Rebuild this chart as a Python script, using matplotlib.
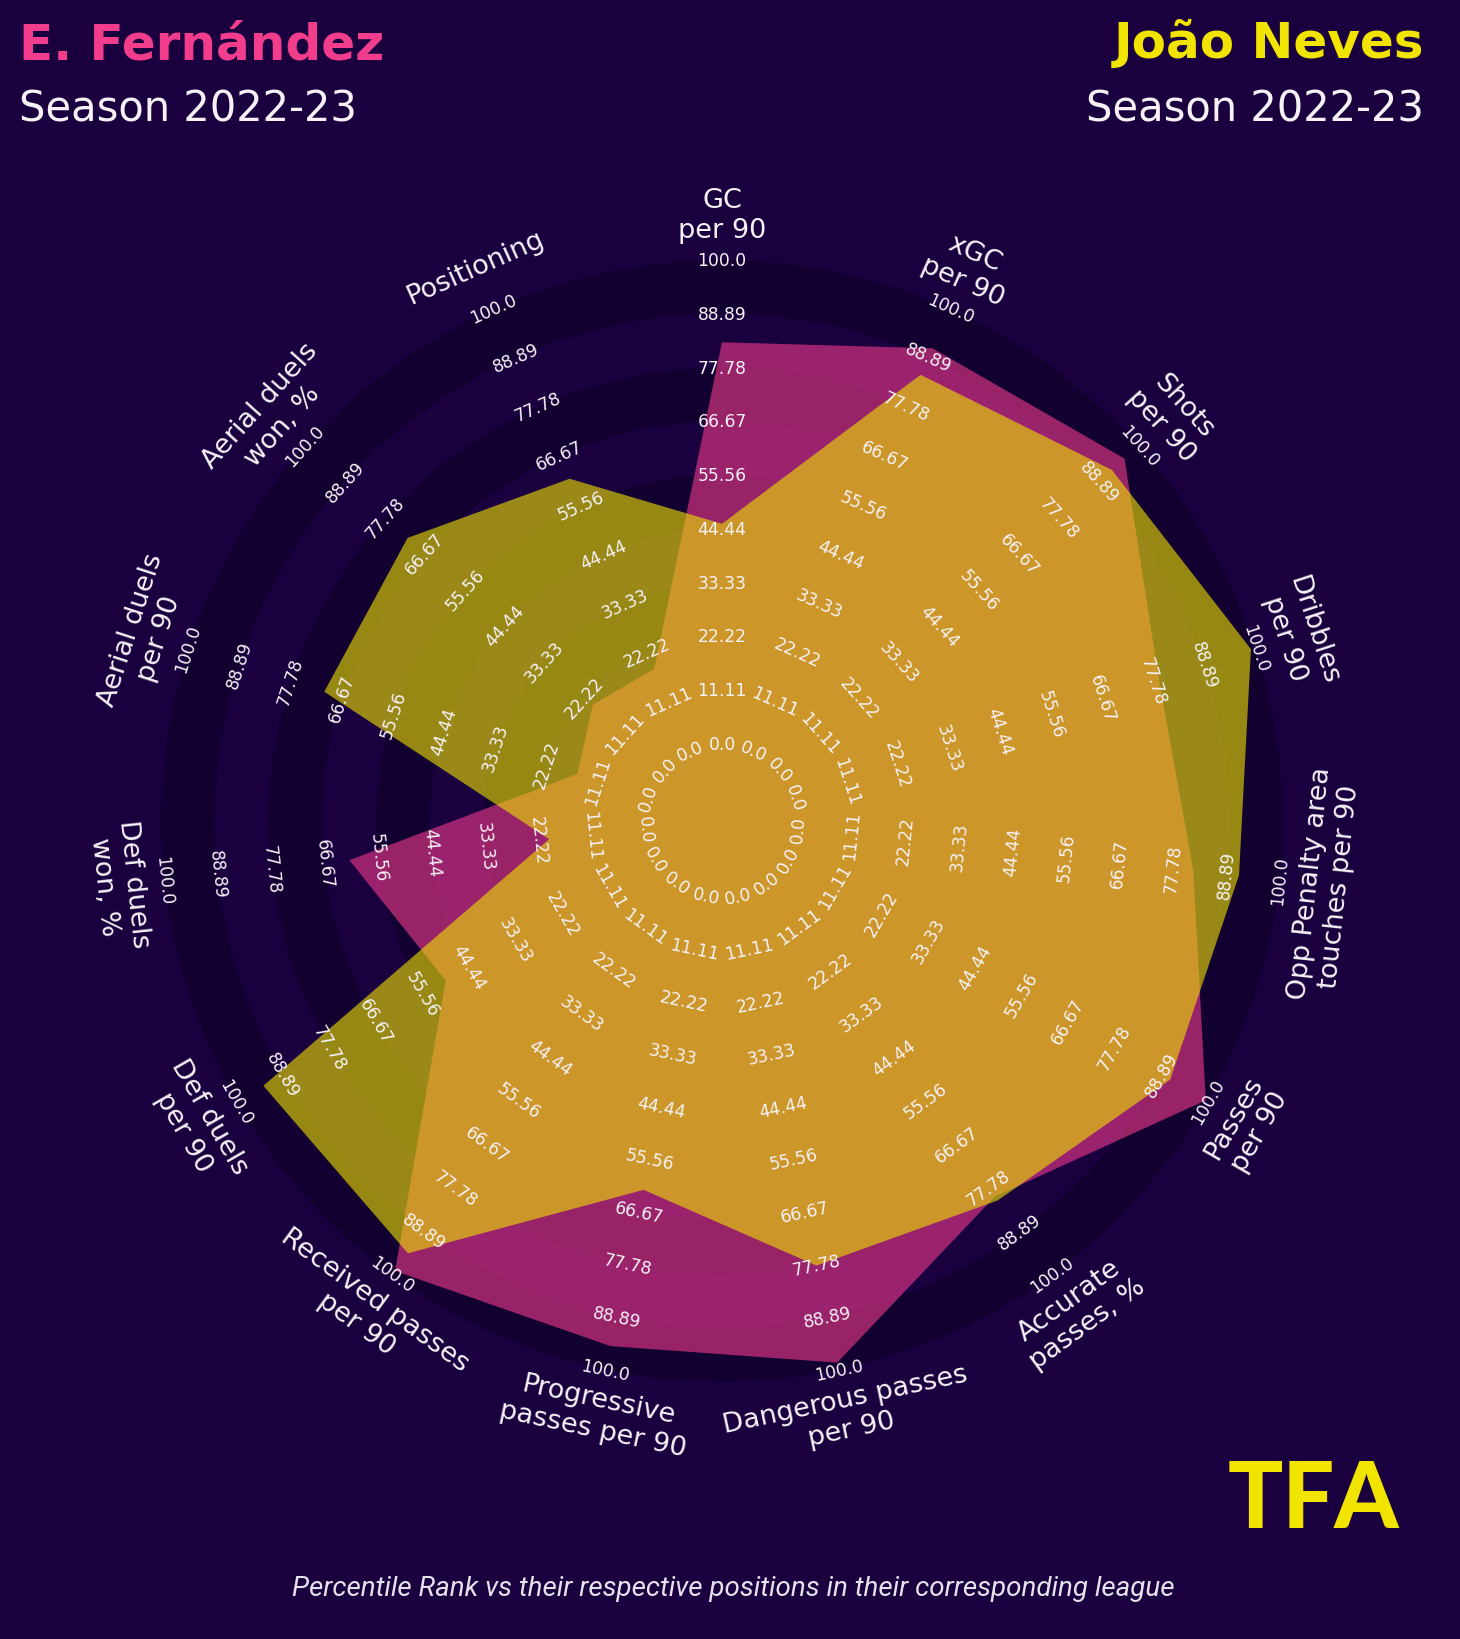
import matplotlib
matplotlib.use('Agg')
import matplotlib.pyplot as plt
import numpy as np

W, H = 1460, 1640

BG = '#1a003f'
RING_DARK = '#120030'
PINK = '#f23c8c'
YELLOW = '#f0e400'
TEXT = '#f6f2f6'

params = ['GC\nper 90', 'xGC\nper 90', 'Shots\nper 90', 'Dribbles\nper 90',
          'Opp Penalty area\ntouches per 90', 'Passes\nper 90',
          'Accurate\npasses, %', 'Dangerous passes\nper 90',
          'Progressive\npasses per 90', 'Received passes\nper 90',
          'Def duels\nper 90', 'Def duels\nwon, %', 'Aerial duels\nper 90',
          'Aerial duels\nwon, %', 'Positioning']

# percentile ranks
fernandez = [83, 91, 96, 79, 82, 99.5, 80, 98.5, 95, 99, 50, 61.5, 15.5, 20, 18.5]
neves = [45.5, 85, 92.5, 99, 91.5, 91, 81, 78, 62, 94.5, 93.5, 20, 70.5, 71.5, 61.5]

ring_values = np.linspace(0, 100, 10)

player1 = 'E. Fernández'
player2 = 'João Neves'
season = 'Season 2022-23'
footer = 'Percentile Rank vs their respective positions in their corresponding league'


def px_to_fig(x, y):
    return x / W, 1 - y / H


def tangent_rotation(theta_deg):
    rot = (-theta_deg) % 180
    if rot > 90:
        rot -= 180
    return rot


fig = plt.figure(figsize=(W / 100, H / 100), dpi=100, facecolor=BG)

# radar: centre (722, 822) px, value 0 at 77 px, value 100 at 561 px
cx, cy, r_out, r_zero = 722, 822, 561, 77
ax = fig.add_axes([(cx - r_out) / W, (H - cy - r_out) / H, 2 * r_out / W, 2 * r_out / H],
                  projection='polar')
ax.set_theta_zero_location('N')
ax.set_theta_direction(-1)
r_min = -r_zero / (r_out - r_zero) * 100
ax.set_ylim(r_min, 100)
ax.set_facecolor(BG)
ax.grid(False)
ax.set_xticks([])
ax.set_yticks([])
for sp in ax.spines.values():
    sp.set_visible(False)

# alternating rings
step = ring_values[1] - ring_values[0]
for i in range(len(ring_values) - 1):
    if i % 2 == 0:
        ax.bar(0, step, width=2 * np.pi, bottom=ring_values[i], color=RING_DARK,
               linewidth=0, zorder=1)

n = len(params)
theta_deg = np.arange(n) * 360 / n
theta = np.deg2rad(theta_deg)

ax.fill(np.append(theta, theta[0]), np.append(fernandez, fernandez[0]),
        facecolor=PINK, alpha=0.6, lw=0, zorder=2)
ax.fill(np.append(theta, theta[0]), np.append(neves, neves[0]),
        facecolor=YELLOW, alpha=0.6, lw=0, zorder=3)

for t, td, name in zip(theta, theta_deg, params):
    rot = tangent_rotation(td)
    for v in ring_values:
        ax.text(t, v, str(round(v, 2)), rotation=rot, rotation_mode='anchor',
                ha='center', va='center', fontsize=12.3, color=TEXT, zorder=5)
    ax.text(t, 109.4, name, rotation=rot, rotation_mode='anchor',
            ha='center', va='center', ma='center', fontsize=19.5, color=TEXT,
            zorder=5)

# titles
fig.text(*px_to_fig(19, 60), player1, ha='left', va='baseline', fontsize=36,
         fontweight='bold', color=PINK)
fig.text(*px_to_fig(19, 122), season, ha='left', va='baseline', fontsize=30,
         color=TEXT)
fig.text(*px_to_fig(1424, 58), player2, ha='right', va='baseline', fontsize=36,
         fontweight='bold', color=YELLOW)
fig.text(*px_to_fig(1424, 122), season, ha='right', va='baseline', fontsize=30,
         color=TEXT)

# logo
fig.text(*px_to_fig(1313, 1528), 'TFA', ha='center', va='baseline', fontsize=66,
         fontfamily='Lato', fontweight='black', color=YELLOW)

fig.text(*px_to_fig(733, 1596), footer, ha='center', va='baseline', fontsize=20,
         fontfamily='Roboto', fontstyle='italic', color='#e6e2ec')

fig.savefig('out.png', dpi=100, facecolor=BG)
